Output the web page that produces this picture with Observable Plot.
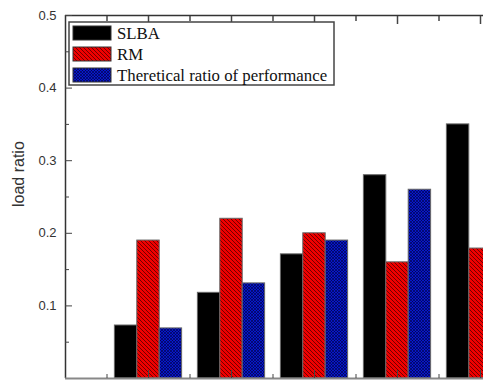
<!DOCTYPE html>
<html><head><meta charset="utf-8">
<script src="https://cdn.jsdelivr.net/npm/d3@7"></script>
<script src="https://cdn.jsdelivr.net/npm/@observablehq/plot@0.6"></script>
<style>body{margin:0;background:#fff}#chart{width:483px;height:382px}</style>
</head><body><div id="chart"></div>
<script>
const groups = [1, 2, 3, 4, 5];
const seriesNames = ["SLBA", "RM", "Theretical ratio of performance"];
const slba = [0.073, 0.118, 0.171, 0.28, 0.35];
const rm = [0.19, 0.22, 0.2, 0.16, 0.179];
const theoretical = [0.069, 0.131, 0.19, 0.26, null];
const yTicks = [0.1, 0.2, 0.3, 0.4, 0.5];
const yMinor = [0.05, 0.15, 0.25, 0.35, 0.45];
const xMajor = [1, 2, 3, 4, 5];
const xMinor = [0.5, 1.5, 2.5, 3.5, 4.5];

const W = 483, H = 382, mL = 65, mT = 15, mB = 4;
const unit = 83; // px per group
const barW = 0.27;
const fills = ["#000", "url(#hatchRed)", "url(#hatchBlue)"];
const valuesBySeries = [slba, rm, theoretical];

function rows(si) {
  return groups.map((g, i) => ({
    g, v: valuesBySeries[si][i],
    x1: g + (si - 1.5) * barW, x2: g + (si - 0.5) * barW
  })).filter(d => d.v != null);
}

const font = "Liberation Sans, Arial, sans-serif";
const plot = Plot.plot({
  width: W, height: H,
  marginLeft: mL, marginTop: mT, marginBottom: mB, marginRight: 0,
  style: {fontFamily: font, background: "#fff"},
  x: {type: "linear", domain: [0, (W - mL) / unit], axis: null},
  y: {domain: [0, 0.5], axis: null},
  marks: [
    ...[0, 1, 2].map(si => Plot.rectY(rows(si), {
      x1: "x1", x2: "x2", y1: 0, y2: "v",
      fill: fills[si], stroke: "#666", strokeWidth: 1, clip: true
    })),
    Plot.ruleY([0.5], {stroke: "#333", strokeWidth: 1.5}),
    Plot.ruleX([0], {stroke: "#333", strokeWidth: 1.5}),
    Plot.ruleY([0], {stroke: "#888", strokeWidth: 2}),
    Plot.axisY({ticks: yTicks, tickSize: 0, tickPadding: 9, tickFormat: ".1f", fontSize: 13, fill: "#333", label: null}),
    Plot.axisY({ticks: yTicks, tickSize: -7, text: null, label: null, stroke: "#444"}),
    Plot.axisY({ticks: yMinor, tickSize: -4, text: null, label: null, stroke: "#444"}),
    Plot.axisX({anchor: "top", ticks: xMajor, tickSize: -8, text: null, label: null, stroke: "#444", strokeWidth: 1.5}),
    Plot.axisX({anchor: "top", ticks: xMinor, tickSize: -5, text: null, label: null, stroke: "#444", strokeWidth: 1.5}),
    Plot.axisX({anchor: "bottom", ticks: xMajor, tickSize: -8, text: null, label: null, stroke: "#444"}),
    Plot.axisX({anchor: "bottom", ticks: xMinor, tickSize: -4, text: null, label: null, stroke: "#444"}),
    Plot.text(["load ratio"], {frameAnchor: "left", text: d => d, rotate: -90, dx: -47, dy: 10, fontSize: 16, fill: "#333"})
  ]
});
document.getElementById("chart").appendChild(plot);

const svg = d3.select(plot);
const defs = svg.insert("defs", ":first-child");
const pr = defs.append("pattern").attr("id", "hatchRed").attr("patternUnits", "userSpaceOnUse").attr("width", 4).attr("height", 4);
pr.append("rect").attr("width", 4).attr("height", 4).attr("fill", "#f00000");
pr.append("path").attr("d", "M-1,-1L5,5M3,-1L5,1M-1,3L1,5").attr("stroke", "#500000").attr("stroke-width", 0.8);
const pb = defs.append("pattern").attr("id", "hatchBlue").attr("patternUnits", "userSpaceOnUse").attr("width", 3).attr("height", 3);
pb.append("rect").attr("width", 3).attr("height", 3).attr("fill", "#0818c8");
pb.append("path").attr("d", "M0,0L3,3M3,0L0,3").attr("stroke", "#000040").attr("stroke-width", 0.6);

// legend
const lg = svg.append("g").attr("class", "legend").attr("text-anchor", "start");
lg.append("rect").attr("x", 69).attr("y", 22).attr("width", 265).attr("height", 63)
  .attr("fill", "#fff").attr("stroke", "#444").attr("stroke-width", 1.5);
seriesNames.forEach((name, i) => {
  const y0 = 26 + i * 21;
  lg.append("rect").attr("x", 73).attr("y", y0).attr("width", 38).attr("height", 14)
    .attr("fill", fills[i]).attr("stroke", "#333").attr("stroke-width", 1);
  lg.append("text").attr("x", 117).attr("y", y0 + 13).text(name)
    .attr("text-anchor", "start")
    .attr("font-family", "Liberation Serif, Times New Roman, serif").attr("font-size", 16.8).attr("fill", "#111");
});
</script>
</body></html>
